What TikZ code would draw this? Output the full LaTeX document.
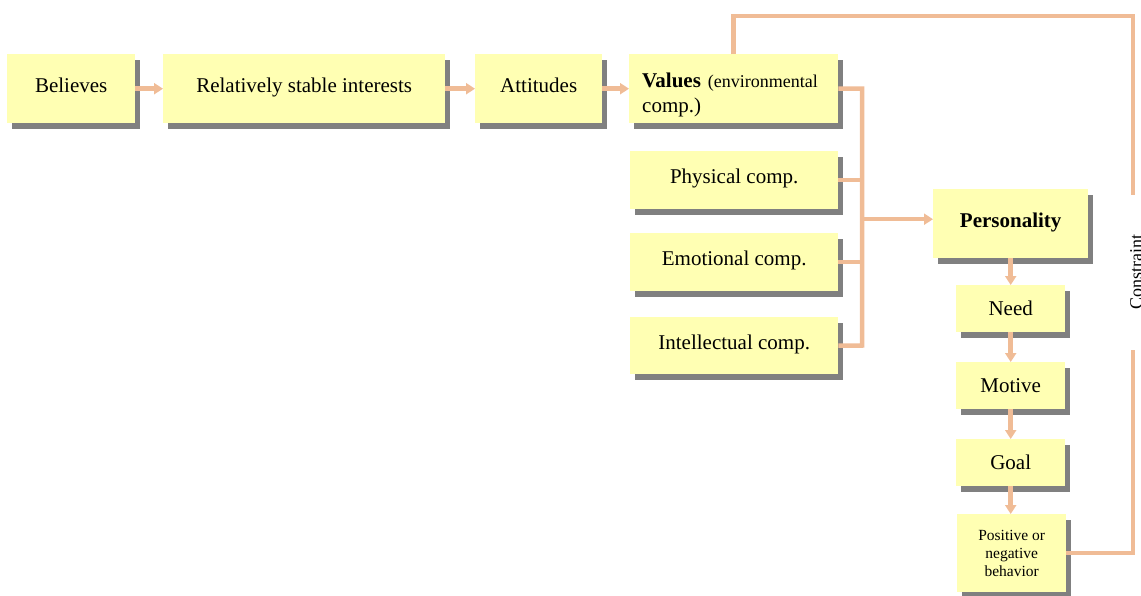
\documentclass[tikz,border=0pt]{standalone}
\usepackage{fontspec}
\setmainfont{Liberation Serif}
\usetikzlibrary{arrows.meta,shadows}
\definecolor{boxfill}{RGB}{255,255,179}
\definecolor{linkcol}{RGB}{240,188,150}
\definecolor{shade}{RGB}{128,128,128}

\begin{document}
\begin{tikzpicture}[x=1pt,y=-1pt,
  card/.style={fill=boxfill, draw=none, inner sep=0pt, anchor=north west,
    font=\fontsize{21}{25}\selectfont,
    drop shadow={shadow xshift=5pt, shadow yshift=-6pt, fill=shade, opacity=1}},
  oneline/.style={card, text height=14pt, text depth=7pt},
  smallcard/.style={card, text height=14pt, text depth=1pt},
  link/.style={draw=linkcol, line width=4.5pt, line join=miter},
  flow/.style={link, -{Triangle[length=9pt,width=11pt]}},
]
\useasboundingbox (0,0) rectangle (1141,595);

% top chain
\node[oneline, minimum width=128pt, minimum height=69pt] (bel) at (7,54) {Believes};
\node[oneline, minimum width=282pt, minimum height=69pt] (rsi) at (163,54) {Relatively stable interests};
\node[oneline, minimum width=127pt, minimum height=69pt] (att) at (475,54) {Attitudes};
\node[card, minimum width=209pt, minimum height=69pt, text width=183pt, align=left] (val) at (629,54)
  {\rule{0pt}{27pt}\textbf{Values} {\fontsize{18}{25}\selectfont(environmental}\\comp.)};

% components
\node[oneline, minimum width=208pt, minimum height=58pt] (phy) at (630,151) {Physical comp.};
\node[oneline, minimum width=208pt, minimum height=58pt] (emo) at (630,233) {Emotional comp.};
\node[oneline, minimum width=208pt, minimum height=57pt] (int) at (630,317) {Intellectual comp.};

% personality column
\node[oneline, minimum width=155pt, minimum height=69pt, font=\fontsize{21}{25}\selectfont\bfseries] (per) at (933,189) {Personality};
\node[smallcard, minimum width=109pt, minimum height=47pt] (need) at (956,285) {Need};
\node[smallcard, minimum width=109pt, minimum height=47pt] (mot) at (956,362) {Motive};
\node[smallcard, minimum width=109pt, minimum height=47pt] (goal) at (956,439) {Goal};
\node[card, minimum width=109pt, minimum height=78pt, align=center, font=\fontsize{15.5}{18}\selectfont] (pos) at (957,514)
  {Positive or\\negative\\behavior};

% feedback label, running off the right edge
\node[rotate=90, anchor=base, font=\fontsize{18}{22}\selectfont] (cons) at (1142,272) {Constraint};

% arrows along the top row
\draw[flow] (bel.east) -- (rsi.west);
\draw[flow] (rsi.east) -- (att.west);
\draw[flow] (att.east) -- (val.west);

% bracket joining the components
\coordinate (bb) at (862,345.5);
\draw[link] (val.east) -| (bb) -- (int.east);
\draw[link] (phy.east) -- (phy.east -| bb);
\draw[link] (emo.east) -- (emo.east -| bb);
\draw[flow] ([yshift=4.5pt]per.west -| bb) -- ([yshift=4.5pt]per.west);

% personality column arrows
\draw[flow] (per.south) -- (need.north);
\draw[flow] (need.south) -- (mot.north);
\draw[flow] (mot.south) -- (goal.north);
\draw[flow] (goal.south) -- (goal.south |- pos.north);

% constraint loop
\coordinate (ctr) at (1133,16);
\coordinate (cga) at (1133,195);
\coordinate (cgb) at (1133,350);
\draw[link] (val.north) |- (ctr) -- (cga);
\draw[link] (cgb) |- (pos.east);
\end{tikzpicture}
\end{document}
